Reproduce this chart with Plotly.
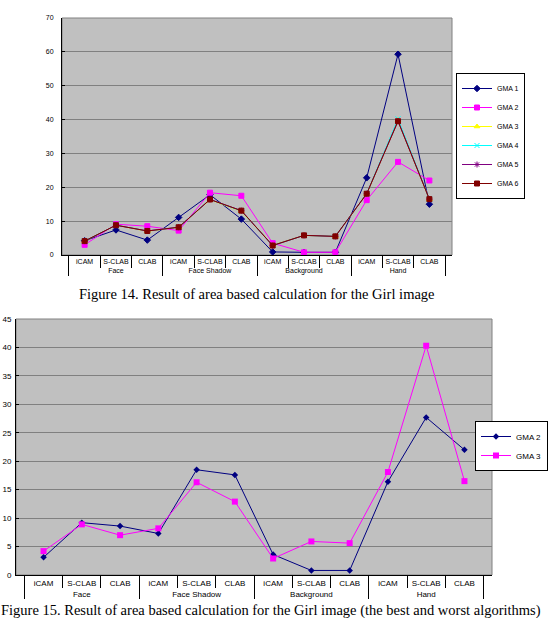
import plotly.graph_objects as go

groups = ["Face", "Face Shadow", "Background", "Hand"]
methods = ["iCAM", "S-CLAB", "CLAB"]
x_groups = [g for g in groups for _ in methods]
x_methods = [m for _ in groups for m in methods]

# Figure 14 data
gma1 = [4.2, 7.4, 4.4, 11.1, 17.8, 10.6, 0.9, 0.8, 0.8, 22.8, 59.3, 15.0]
gma2 = [3.0, 9.1, 8.5, 7.2, 18.4, 17.5, 3.5, 0.8, 0.8, 16.2, 27.5, 22.0]
gma3 = [4.1, 8.8, 7.0, 8.2, 16.3, 12.9, 2.9, 5.8, 5.5, 18.0, 39.8, 16.4]
gma4 = [4.1, 8.8, 7.1, 8.2, 16.4, 13.0, 2.8, 5.8, 5.5, 18.1, 40.2, 16.5]
gma5 = [4.1, 8.8, 7.1, 8.2, 16.4, 13.1, 2.8, 5.8, 5.5, 18.1, 39.6, 16.5]
gma6 = [4.1, 8.8, 7.1, 8.2, 16.4, 13.1, 2.8, 5.8, 5.5, 18.1, 39.5, 16.5]

# Figure 15 data
f15_gma2 = [3.1, 9.2, 8.6, 7.3, 18.5, 17.6, 3.6, 0.8, 0.8, 16.4, 27.7, 22.0]
f15_gma3 = [4.2, 8.9, 7.0, 8.2, 16.3, 12.9, 2.9, 5.9, 5.6, 18.1, 40.3, 16.5]

y1_ticks = [0, 10, 20, 30, 40, 50, 60, 70]
y2_ticks = [0, 5, 10, 15, 20, 25, 30, 35, 40, 45]

W, H = 549, 618
def px(x):
    return x / W
def py(y):
    return 1 - y / H

fig = go.Figure()

series1 = [
    ("GMA 1", gma1, "#000080", "diamond", 5),
    ("GMA 2", gma2, "#FF00FF", "square", 5),
    ("GMA 3", gma3, "#FFFF00", "triangle-up", 5),
    ("GMA 4", gma4, "#00FFFF", "x-thin-open", 5),
    ("GMA 5", gma5, "#800080", "asterisk-open", 5),
    ("GMA 6", gma6, "#800000", "square", 5),
]
for name, vals, col, sym, sz in series1:
    fig.add_trace(go.Scatter(
        x=[x_groups, x_methods], y=vals, name=name, mode="lines+markers",
        line=dict(color=col, width=1),
        marker=dict(color=col, symbol=sym, size=sz, line=dict(color=col, width=1)),
        xaxis="x", yaxis="y", legend="legend"))

series2 = [
    ("GMA 2", f15_gma2, "#000080", "diamond", 5),
    ("GMA 3", f15_gma3, "#FF00FF", "square", 6),
]
for name, vals, col, sym, sz in series2:
    fig.add_trace(go.Scatter(
        x=[x_groups, x_methods], y=vals, name=name, mode="lines+markers",
        line=dict(color=col, width=1),
        marker=dict(color=col, symbol=sym, size=sz),
        xaxis="x2", yaxis="y2", legend="legend2"))

axfont1 = dict(family="Liberation Sans, Arial", size=7, color="black")
axfont2 = dict(family="Liberation Sans, Arial", size=8, color="black")

common_x = dict(type="multicategory", showline=True, linecolor="black", linewidth=1,
                ticks="outside", ticklen=12, tickcolor="black", tickwidth=1, tickangle=0,
                showdividers=True, dividercolor="black", dividerwidth=1,
                showgrid=False, zeroline=False, fixedrange=True, automargin=False)
common_y = dict(showline=True, linecolor="black", linewidth=1,
                ticks="inside", ticklen=3, tickcolor="black",
                showgrid=True, gridcolor="#808080", gridwidth=1,
                zeroline=False, fixedrange=True, automargin=False)

fig.update_layout(
    width=W, height=H, margin=dict(l=0, r=0, t=0, b=0, autoexpand=False),
    paper_bgcolor="white", plot_bgcolor="#C0C0C0",
    showlegend=True,
    xaxis=dict(domain=[px(62), px(452)], anchor="y", tickfont=axfont1, **common_x),
    yaxis=dict(domain=[py(255), py(18)], anchor="x", range=[0, 70], tickvals=y1_ticks,
               tickfont=axfont1, ticklabelstandoff=6, **common_y),
    xaxis2=dict(domain=[px(16), px(492)], anchor="y2", tickfont=axfont2, **common_x),
    yaxis2=dict(domain=[py(575), py(319)], anchor="x2", range=[0, 45], tickvals=y2_ticks,
                tickfont=axfont2, ticklabelstandoff=2, **common_y),
    legend=dict(x=px(456), y=py(136), xanchor="left", yanchor="middle",
                bgcolor="white", bordercolor="black", borderwidth=1,
                font=dict(family="Liberation Sans, Arial", size=7, color="black"),
                itemwidth=30, tracegroupgap=0),
    legend2=dict(x=px(548), y=py(446), xanchor="right", yanchor="middle",
                 bgcolor="white", bordercolor="black", borderwidth=1,
                 font=dict(family="Liberation Sans, Arial", size=8, color="black"),
                 itemwidth=30, tracegroupgap=0),
    shapes=[
        dict(type="rect", xref="x domain", yref="y domain", x0=0, x1=1, y0=0, y1=1,
             line=dict(color="#808080", width=1), layer="below"),
        dict(type="rect", xref="x2 domain", yref="y2 domain", x0=0, x1=1, y0=0, y1=1,
             line=dict(color="#808080", width=1), layer="below"),
    ],
    annotations=[
        dict(text="Figure 14. Result of area based calculation for the Girl image",
             x=px(257), y=py(294), xref="paper", yref="paper", showarrow=False,
             xanchor="center", yanchor="middle",
             font=dict(family="Liberation Serif, Times New Roman", size=14.5, color="black")),
        dict(text="Figure 15. Result of area based calculation for the Girl image (the best and worst algorithms)",
             x=px(-1), y=py(610), xref="paper", yref="paper", showarrow=False,
             xanchor="left", yanchor="middle",
             font=dict(family="Liberation Serif, Times New Roman", size=14.5, color="black")),
    ],
)

fig.write_html("out.html")
